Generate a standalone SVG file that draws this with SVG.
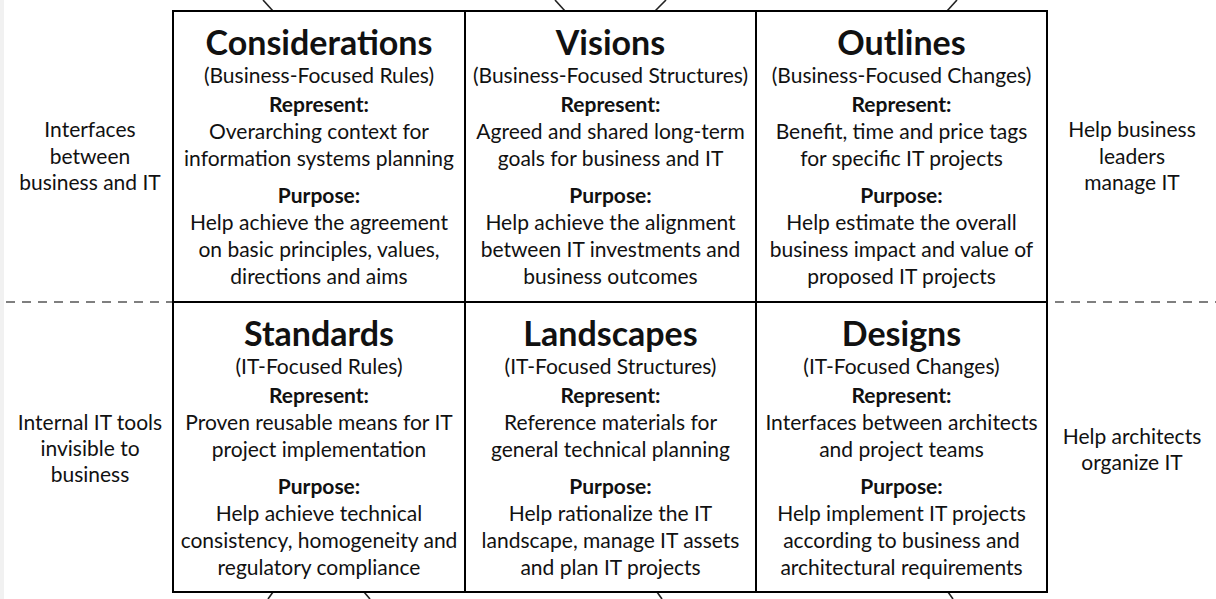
<svg xmlns="http://www.w3.org/2000/svg" width="1216" height="599" viewBox="0 0 1216 599">
  <style>
    text { font-family: Lato, "Open Sans", sans-serif; fill: #111; text-anchor: middle; }
    .title { font-size: 34px; font-weight: 700; }
    .sub { font-size: 21px; }
    .head { font-size: 21px; font-weight: 700; }
    .body { font-size: 21px; }
    .side { font-size: 21px; }
    .cell { fill: #fff; stroke: #000; stroke-width: 2; }
    .tick { stroke: #222; stroke-width: 1.6; fill: none; }
    .divider { stroke: #555; stroke-width: 1.6; stroke-dasharray: 9 7; fill: none; }
  </style>

  <rect x="0" y="0" width="1216" height="599" fill="#fff"/>
  <rect x="0" y="0" width="4" height="599" fill="#f1f1f1"/>

  <!-- stubs of links leaving the grid, and the row divider -->
  <g id="connectors">
    <line class="tick" x1="263" y1="0" x2="273" y2="11"/>
    <line class="tick" x1="555" y1="0" x2="565" y2="11"/>
    <line class="tick" x1="666" y1="0" x2="655" y2="11"/>
    <line class="tick" x1="957" y1="0" x2="947" y2="11"/>
    <line class="tick" x1="273" y1="592" x2="268" y2="599"/>
    <line class="tick" x1="364" y1="592" x2="370" y2="599"/>
    <line class="tick" x1="657" y1="592" x2="662" y2="599"/>
    <line class="tick" x1="948" y1="592" x2="953" y2="599"/>
    <line class="divider" x1="6" y1="302" x2="173" y2="302"/>
    <line class="divider" x1="1055" y1="302" x2="1216" y2="302"/>
  </g>

  <!-- side captions -->
  <g id="label-business-left">
    <text class="side" x="90" y="137">Interfaces</text>
    <text class="side" x="90" y="164">between</text>
    <text class="side" x="90" y="190">business and IT</text>
  </g>
  <g id="label-business-right">
    <text class="side" x="1132" y="137">Help business</text>
    <text class="side" x="1132" y="164">leaders</text>
    <text class="side" x="1132" y="190">manage IT</text>
  </g>
  <g id="label-it-left">
    <text class="side" x="90" y="430">Internal IT tools</text>
    <text class="side" x="90" y="456">invisible to</text>
    <text class="side" x="90" y="482">business</text>
  </g>
  <g id="label-it-right">
    <text class="side" x="1132" y="444">Help architects</text>
    <text class="side" x="1132" y="470">organize IT</text>
  </g>

  <!-- grid cells; text positions are relative to each cell's top-left corner -->
  <g id="considerations" transform="translate(173,11)">
    <rect class="cell" x="0" y="0" width="292" height="291"/>
    <text class="title" x="146" y="44">Considerations</text>
    <text class="sub" x="146" y="72">(Business-Focused Rules)</text>
    <text class="head" x="146" y="101">Represent:</text>
    <text class="body" x="146" y="128">Overarching context for</text>
    <text class="body" x="146" y="155">information systems planning</text>
    <text class="head" x="146" y="192">Purpose:</text>
    <text class="body" x="146" y="219">Help achieve the agreement</text>
    <text class="body" x="146" y="246">on basic principles, values,</text>
    <text class="body" x="146" y="273">directions and aims</text>
  </g>

  <g id="visions" transform="translate(465,11)">
    <rect class="cell" x="0" y="0" width="291" height="291"/>
    <text class="title" x="145.5" y="44">Visions</text>
    <text class="sub" x="145.5" y="72">(Business-Focused Structures)</text>
    <text class="head" x="145.5" y="101">Represent:</text>
    <text class="body" x="145.5" y="128">Agreed and shared long-term</text>
    <text class="body" x="145.5" y="155">goals for business and IT</text>
    <text class="head" x="145.5" y="192">Purpose:</text>
    <text class="body" x="145.5" y="219">Help achieve the alignment</text>
    <text class="body" x="145.5" y="246">between IT investments and</text>
    <text class="body" x="145.5" y="273">business outcomes</text>
  </g>

  <g id="outlines" transform="translate(756,11)">
    <rect class="cell" x="0" y="0" width="291" height="291"/>
    <text class="title" x="145.5" y="44">Outlines</text>
    <text class="sub" x="145.5" y="72">(Business-Focused Changes)</text>
    <text class="head" x="145.5" y="101">Represent:</text>
    <text class="body" x="145.5" y="128">Benefit, time and price tags</text>
    <text class="body" x="145.5" y="155">for specific IT projects</text>
    <text class="head" x="145.5" y="192">Purpose:</text>
    <text class="body" x="145.5" y="219">Help estimate the overall</text>
    <text class="body" x="145.5" y="246">business impact and value of</text>
    <text class="body" x="145.5" y="273">proposed IT projects</text>
  </g>

  <g id="standards" transform="translate(173,302)">
    <rect class="cell" x="0" y="0" width="292" height="290"/>
    <text class="title" x="146" y="44">Standards</text>
    <text class="sub" x="146" y="72">(IT-Focused Rules)</text>
    <text class="head" x="146" y="101">Represent:</text>
    <text class="body" x="146" y="128">Proven reusable means for IT</text>
    <text class="body" x="146" y="155">project implementation</text>
    <text class="head" x="146" y="192">Purpose:</text>
    <text class="body" x="146" y="219">Help achieve technical</text>
    <text class="body" x="146" y="246">consistency, homogeneity and</text>
    <text class="body" x="146" y="273">regulatory compliance</text>
  </g>

  <g id="landscapes" transform="translate(465,302)">
    <rect class="cell" x="0" y="0" width="291" height="290"/>
    <text class="title" x="145.5" y="44">Landscapes</text>
    <text class="sub" x="145.5" y="72">(IT-Focused Structures)</text>
    <text class="head" x="145.5" y="101">Represent:</text>
    <text class="body" x="145.5" y="128">Reference materials for</text>
    <text class="body" x="145.5" y="155">general technical planning</text>
    <text class="head" x="145.5" y="192">Purpose:</text>
    <text class="body" x="145.5" y="219">Help rationalize the IT</text>
    <text class="body" x="145.5" y="246">landscape, manage IT assets</text>
    <text class="body" x="145.5" y="273">and plan IT projects</text>
  </g>

  <g id="designs" transform="translate(756,302)">
    <rect class="cell" x="0" y="0" width="291" height="290"/>
    <text class="title" x="145.5" y="44">Designs</text>
    <text class="sub" x="145.5" y="72">(IT-Focused Changes)</text>
    <text class="head" x="145.5" y="101">Represent:</text>
    <text class="body" x="145.5" y="128">Interfaces between architects</text>
    <text class="body" x="145.5" y="155">and project teams</text>
    <text class="head" x="145.5" y="192">Purpose:</text>
    <text class="body" x="145.5" y="219">Help implement IT projects</text>
    <text class="body" x="145.5" y="246">according to business and</text>
    <text class="body" x="145.5" y="273">architectural requirements</text>
  </g>
</svg>
